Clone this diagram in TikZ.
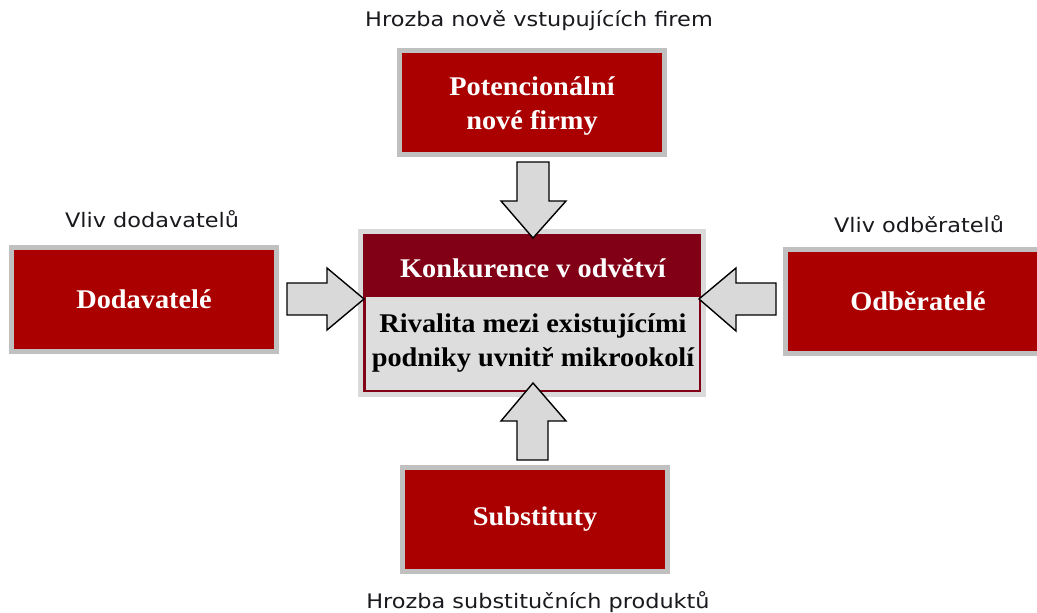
\documentclass[tikz,border=0pt]{standalone}
\usepackage{fontspec}
\usetikzlibrary{calc}
\newfontfamily\boxfont[FakeStretch=1.05]{Liberation Serif}
\newfontfamily\labelfont[FakeStretch=1.12]{DejaVu Sans}
\definecolor{boxred}{RGB}{170,0,0}
\definecolor{boxgrey}{RGB}{192,192,192}
\definecolor{bandred}{RGB}{130,0,22}
\definecolor{corefill}{RGB}{221,221,221}
\definecolor{coreframe}{RGB}{218,218,218}
\definecolor{arrowfill}{RGB}{217,217,217}
\definecolor{labelink}{RGB}{25,25,30}
\tikzset{
  forcebox/.style={rectangle, fill=boxred, draw=boxgrey, line width=5pt,
    minimum width=265pt, minimum height=104pt, inner sep=0pt, outer sep=0pt,
    text=white, align=center,
    font=\boxfont\bfseries\fontsize{27}{33.5}\selectfont},
  forcetext/.style={inner sep=0pt, text=white, align=center,
    font=\boxfont\bfseries\fontsize{27}{33.5}\selectfont},
  corebox/.style={rectangle, fill=corefill, draw=bandred, line width=2.5pt,
    minimum width=335.5pt, minimum height=155.5pt, inner sep=0pt, outer sep=0pt},
  coretext/.style={align=center, inner sep=0pt,
    font=\boxfont\bfseries\fontsize{27}{34}\selectfont},
  forcelabel/.style={anchor=base, inner sep=0pt, text=labelink,
    font=\labelfont\fontsize{20}{24}\selectfont},
  blockarrow/.style={fill=arrowfill, draw=black, line width=1.4pt, line join=miter}
}
\begin{document}
\begin{tikzpicture}[x=1pt, y=-1pt]
  \clip (0,0) rectangle (1037,613);
  \fill[white] (0,0) rectangle (1037,613);

  % central box: industry rivalry
  \node[corebox] (core) at (532,313) {};
  \draw[coreframe, line width=5pt]
    ($(core.north west)+(-3.5,-3.5)$) rectangle ($(core.south east)+(3.5,3.5)$);
  \draw[bandred, line width=2.5pt] (core.north west) rectangle (core.south east);
  \fill[bandred] (core.north west) rectangle ($(core.north east)+(0,62)$);
  \node[coretext, text=white, anchor=base] (konk) at (533,277) {Konkurence v odvětví};
  \node[coretext, text=black, anchor=center] (riv) at (533,343) {Rivalita mezi existujícími\\podniky uvnitř mikrookolí};

  % the four forces
  \node[forcebox] (pot) at (532,102) {};
  \node[forcetext] (pottext) at ($(pot.center)+(0,4)$) {Potencionální\\nové firmy};
  \node[forcebox] (dod) at (144,299) {Dodavatelé};
  \node[forcebox] (odb) at (918,301) {Odběratelé};
  \node[forcebox] (sub) at (535,519) {Substituty};

  % captions
  \node[forcelabel] (lpot) at (539,26) {Hrozba nově vstupujících firem};
  \node[forcelabel] (ldod) at (152,227) {Vliv dodavatelů};
  \node[forcelabel] (lodb) at (919,232) {Vliv odběratelů};
  \node[forcelabel] (lsub) at (538,608) {Hrozba substitučních produktů};

  % block arrows pointing at the central box
  \draw[blockarrow] (517,162) -- (549,162) -- (549,201) -- (566,201) -- (533,238)
    -- (501,201) -- (517,201) -- cycle;
  \draw[blockarrow] (517,460) -- (548,460) -- (548,421) -- (566,421) -- (533,383)
    -- (501,421) -- (517,421) -- cycle;
  \draw[blockarrow] (287,283) -- (327,283) -- (327,268) -- (364,299) -- (327,330)
    -- (327,315) -- (287,315) -- cycle;
  \draw[blockarrow] (776,283) -- (736,283) -- (736,268) -- (699,299) -- (736,331)
    -- (736,315) -- (776,315) -- cycle;
\end{tikzpicture}
\end{document}
